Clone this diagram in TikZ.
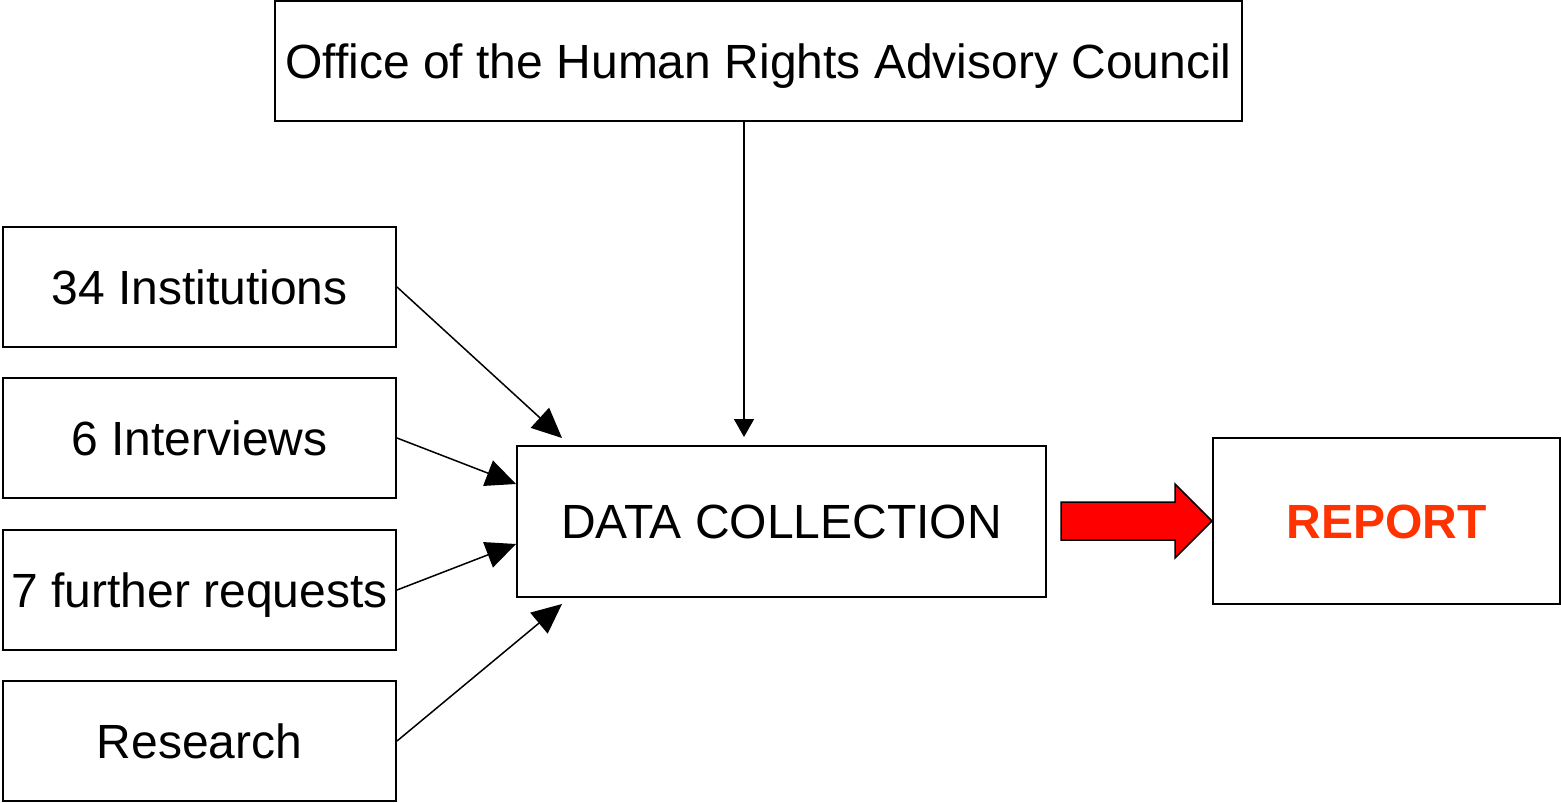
\documentclass[tikz,border=0pt]{standalone}
\usepackage{fontspec}
\setmainfont{Liberation Sans}
\usetikzlibrary{arrows.meta}
\definecolor{repred}{HTML}{FF3300}
\tikzset{
  box/.style={draw=black, line width=1pt, fill=white, inner sep=0pt, font=\fontsize{24}{28}\selectfont, text height=17.2pt, text depth=0pt},
  arr/.style={draw=black, line width=0.75pt, -{Triangle[length=15pt,width=13.5pt]}},
  arrs/.style={draw=black, line width=0.75pt, -{Triangle[length=9pt,width=10pt]}},
}
\begin{document}
\begin{tikzpicture}[x=0.5pt,y=-0.5pt]
\useasboundingbox (0,0) rectangle (1561,802);
\node[box, minimum width=483.5pt, minimum height=60pt] (top) at (758.5,61) {Office of the Human Rights Advisory Council};
\node[box, minimum width=196.5pt, minimum height=60pt] (i1) at (199.5,287) {34 Institutions};
\node[box, minimum width=196.5pt, minimum height=60pt] (i2) at (199.5,438) {6 Interviews};
\node[box, minimum width=196.5pt, minimum height=60pt] (i3) at (199.5,590) {7 further requests};
\node[box, minimum width=196.5pt, minimum height=60pt] (i4) at (199.5,741) {Research};
\node[box, minimum width=264.5pt, minimum height=75.5pt] (dc) at (781.5,521.5) {DATA COLLECTION};
\node[box, minimum width=173.5pt, minimum height=83pt, text=repred, font=\fontsize{24}{28}\selectfont\bfseries] (rep) at (1386.5,521) {REPORT};
\coordinate (t0) at (744,437);
\coordinate (t1) at (562,438);
\coordinate (t2) at (516,484);
\coordinate (t3) at (516,544);
\coordinate (t4) at (562,604);
\draw[arrs] (top.south -| t0) -- (t0);
\draw[arr] (i1.east) -- (t1);
\draw[arr] (i2.east) -- (t2);
\draw[arr] (i3.east) -- (t3);
\draw[arr] (i4.east) -- (t4);
\draw[fill=red, draw=black, line width=0.75pt, line join=miter]
  (1061,502) -- (1175,502) -- (1175,484) -- (rep.west) -- (1175,558) -- (1175,540) -- (1061,540) -- cycle;
\end{tikzpicture}
\end{document}
